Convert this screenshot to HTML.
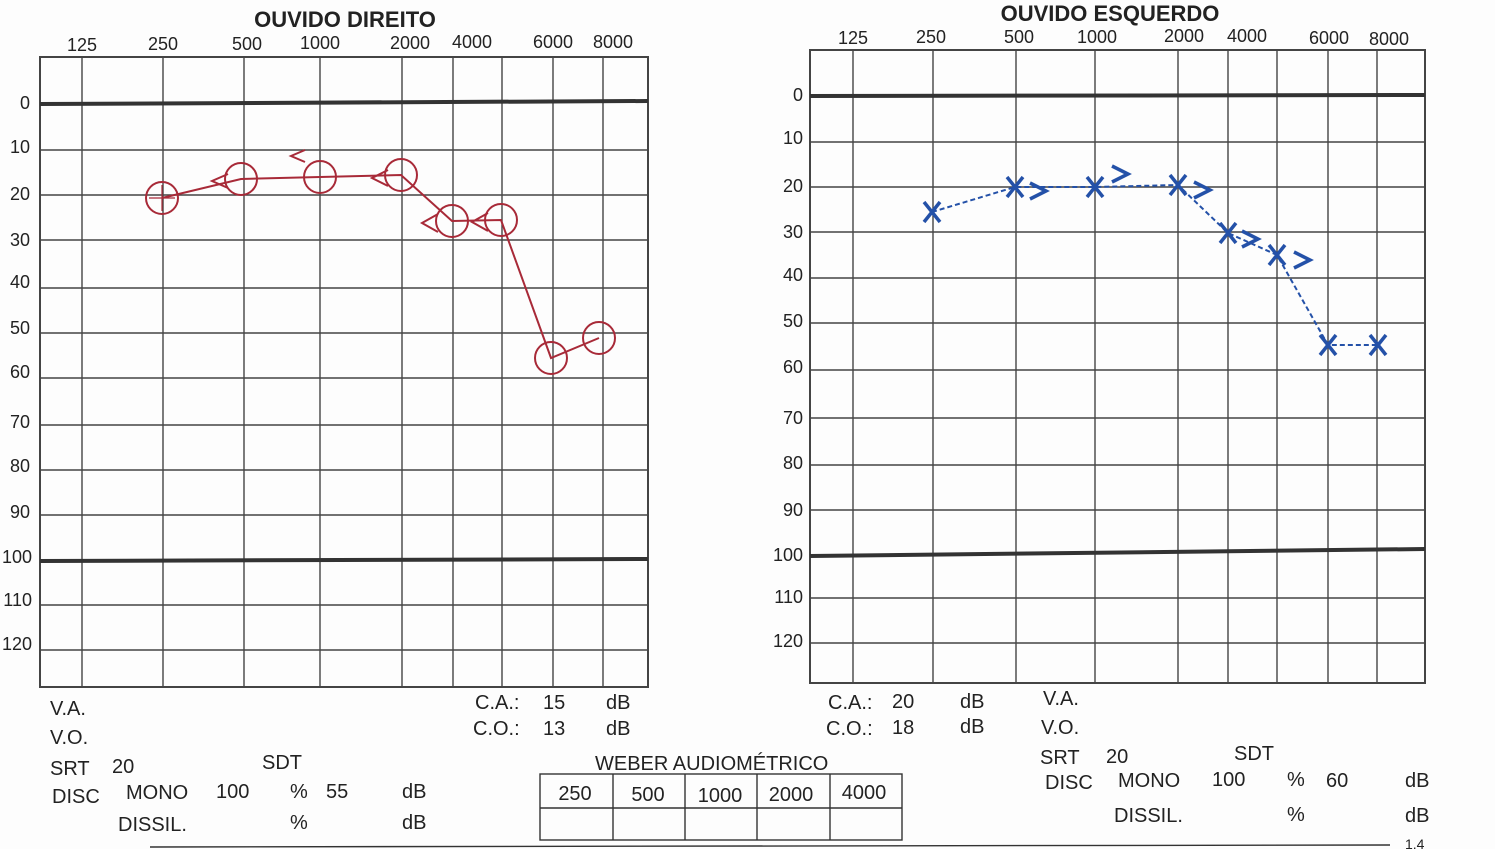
<!DOCTYPE html>
<html><head><meta charset="utf-8"><style>
html,body{margin:0;padding:0;background:#fff;}
svg{display:block;font-family:"Liberation Sans",sans-serif;}
</style></head><body>
<svg width="1495" height="849" viewBox="0 0 1495 849" xmlns="http://www.w3.org/2000/svg">
<rect width="1495" height="849" fill="#fdfdfd"/>
<!-- LEFT CHART -->
<g stroke="#444" stroke-width="1.4" fill="none">
<rect x="40" y="57" width="608" height="630" stroke-width="2"/>
<line x1="82" y1="57" x2="82" y2="687"/><line x1="163" y1="57" x2="163" y2="687"/>
<line x1="244" y1="57" x2="244" y2="687"/><line x1="320" y1="57" x2="320" y2="687"/>
<line x1="402" y1="57" x2="402" y2="687"/><line x1="453" y1="57" x2="453" y2="687"/>
<line x1="502" y1="57" x2="502" y2="687"/><line x1="553" y1="57" x2="553" y2="687"/>
<line x1="603" y1="57" x2="603" y2="687"/>
<line x1="40" y1="150" x2="648" y2="150"/><line x1="40" y1="195" x2="648" y2="195"/>
<line x1="40" y1="240" x2="648" y2="240"/><line x1="40" y1="288" x2="648" y2="288"/>
<line x1="40" y1="333" x2="648" y2="333"/><line x1="40" y1="378" x2="648" y2="378"/>
<line x1="40" y1="425" x2="648" y2="425"/><line x1="40" y1="470" x2="648" y2="470"/>
<line x1="40" y1="515" x2="648" y2="515"/><line x1="40" y1="605" x2="648" y2="605"/>
<line x1="40" y1="650" x2="648" y2="650"/>
</g>
<line x1="40" y1="104" x2="648" y2="101" stroke="#333" stroke-width="4"/>
<line x1="40" y1="561" x2="648" y2="559" stroke="#333" stroke-width="4"/>
<g font-size="18" fill="#222" text-anchor="middle">
<text x="345" y="27" font-weight="bold" font-size="22">OUVIDO DIREITO</text>
<text x="82" y="51">125</text><text x="163" y="50">250</text><text x="247" y="50">500</text>
<text x="320" y="49">1000</text><text x="410" y="49">2000</text><text x="472" y="48">4000</text>
<text x="553" y="48">6000</text><text x="613" y="48">8000</text>
</g>
<g font-size="18" fill="#222" text-anchor="end">
<text x="30" y="109">0</text><text x="30" y="153">10</text><text x="30" y="200">20</text>
<text x="30" y="246">30</text><text x="30" y="288">40</text><text x="30" y="334">50</text>
<text x="30" y="378">60</text><text x="30" y="428">70</text><text x="30" y="472">80</text>
<text x="30" y="518">90</text><text x="32" y="563">100</text><text x="32" y="606">110</text>
<text x="32" y="650">120</text>
</g>
<g stroke="#a82a38" stroke-width="2" fill="none">
<polyline points="162,198 241,179 320,177 401,175 452,221 501,220 551,358 599,338"/>
<circle cx="162" cy="198" r="16"/><circle cx="241" cy="179" r="16"/><circle cx="320" cy="177" r="16"/>
<circle cx="401" cy="175" r="16"/><circle cx="452" cy="221" r="16"/><circle cx="501" cy="220" r="16"/>
<circle cx="551" cy="358" r="16"/><circle cx="599" cy="338" r="16"/>
<path d="M162,185 V211 M149,198 H175" stroke-width="1.2"/>
<polyline points="228,174 212,181 228,188"/><polyline points="305,150 291,156 305,162"/>
<polyline points="388,170 372,178 388,186"/><polyline points="438,214 422,223 438,232"/>
<polyline points="488,213 472,222 488,231"/>
</g>
<!-- RIGHT CHART -->
<g stroke="#444" stroke-width="1.4" fill="none">
<rect x="810" y="50" width="615" height="633" stroke-width="2"/>
<line x1="853" y1="50" x2="853" y2="683"/><line x1="933" y1="50" x2="933" y2="683"/>
<line x1="1016" y1="50" x2="1016" y2="683"/><line x1="1095" y1="50" x2="1095" y2="683"/>
<line x1="1178" y1="50" x2="1178" y2="683"/><line x1="1228" y1="50" x2="1228" y2="683"/>
<line x1="1277" y1="50" x2="1277" y2="683"/><line x1="1328" y1="50" x2="1328" y2="683"/>
<line x1="1377" y1="50" x2="1377" y2="683"/>
<line x1="810" y1="142" x2="1425" y2="142"/><line x1="810" y1="187" x2="1425" y2="187"/>
<line x1="810" y1="232" x2="1425" y2="232"/><line x1="810" y1="278" x2="1425" y2="278"/>
<line x1="810" y1="323" x2="1425" y2="323"/><line x1="810" y1="370" x2="1425" y2="370"/>
<line x1="810" y1="418" x2="1425" y2="418"/><line x1="810" y1="465" x2="1425" y2="465"/>
<line x1="810" y1="510" x2="1425" y2="510"/><line x1="810" y1="598" x2="1425" y2="598"/>
<line x1="810" y1="643" x2="1425" y2="643"/>
</g>
<line x1="810" y1="96" x2="1425" y2="95" stroke="#333" stroke-width="4"/>
<line x1="810" y1="556" x2="1425" y2="549" stroke="#333" stroke-width="4"/>
<g font-size="18" fill="#222" text-anchor="middle">
<text x="1110" y="21" font-weight="bold" font-size="22">OUVIDO ESQUERDO</text>
<text x="853" y="44">125</text><text x="931" y="43">250</text><text x="1019" y="43">500</text>
<text x="1097" y="43">1000</text><text x="1184" y="42">2000</text><text x="1247" y="42">4000</text>
<text x="1329" y="44">6000</text><text x="1389" y="45">8000</text>
</g>
<g font-size="18" fill="#222" text-anchor="end">
<text x="803" y="101">0</text><text x="803" y="144">10</text><text x="803" y="192">20</text>
<text x="803" y="238">30</text><text x="803" y="281">40</text><text x="803" y="327">50</text>
<text x="803" y="373">60</text><text x="803" y="424">70</text><text x="803" y="469">80</text>
<text x="803" y="516">90</text><text x="803" y="561">100</text><text x="803" y="603">110</text>
<text x="803" y="647">120</text>
</g>
<g stroke="#2451a8" stroke-width="3" fill="none">
<polyline points="932,212 1015,187 1095,187 1178,185 1228,233 1277,255 1328,345 1378,345" stroke-dasharray="5,3" stroke-width="2"/>
<g stroke-width="3.5">
<path d="M924,202 L940,222 M940,202 L924,222"/><path d="M1007,177 L1023,197 M1023,177 L1007,197"/>
<path d="M1087,177 L1103,197 M1103,177 L1087,197"/><path d="M1170,175 L1186,195 M1186,175 L1170,195"/>
<path d="M1220,223 L1236,243 M1236,223 L1220,243"/><path d="M1269,245 L1285,265 M1285,245 L1269,265"/>
<path d="M1320,335 L1336,355 M1336,335 L1320,355"/><path d="M1370,335 L1386,355 M1386,335 L1370,355"/>
<polyline points="1030,183 1046,191 1030,199"/><polyline points="1112,166 1128,174 1112,182"/>
<polyline points="1194,182 1210,190 1194,198"/><polyline points="1242,231 1258,239 1242,247"/>
<polyline points="1294,252 1310,260 1294,268"/>
</g>
</g>
<!-- bottom text -->
<g font-size="20" fill="#222">
<text x="50" y="715">V.A.</text><text x="50" y="744">V.O.</text>
<text x="50" y="775">SRT</text><text x="112" y="773">20</text><text x="262" y="769">SDT</text>
<text x="52" y="803">DISC</text><text x="126" y="799">MONO</text><text x="216" y="798">100</text>
<text x="290" y="798">%</text><text x="326" y="798">55</text><text x="402" y="798">dB</text>
<text x="118" y="831">DISSIL.</text><text x="290" y="829">%</text><text x="402" y="829">dB</text>
<text x="475" y="709">C.A.:</text><text x="543" y="709">15</text><text x="606" y="709">dB</text>
<text x="473" y="735">C.O.:</text><text x="543" y="735">13</text><text x="606" y="735">dB</text>
<text x="595" y="770">WEBER AUDIOMÉTRICO</text>
<text x="828" y="709">C.A.:</text><text x="892" y="708">20</text><text x="960" y="708">dB</text>
<text x="826" y="735">C.O.:</text><text x="892" y="734">18</text><text x="960" y="733">dB</text>
<text x="1043" y="705">V.A.</text><text x="1041" y="734">V.O.</text>
<text x="1040" y="764">SRT</text><text x="1106" y="763">20</text><text x="1234" y="760">SDT</text>
<text x="1045" y="789">DISC</text><text x="1118" y="787">MONO</text><text x="1212" y="786">100</text>
<text x="1287" y="786">%</text><text x="1326" y="787">60</text><text x="1405" y="787">dB</text>
<text x="1114" y="822">DISSIL.</text><text x="1287" y="821">%</text><text x="1405" y="822">dB</text>
</g>
<g stroke="#333" stroke-width="1.4" fill="none">
<rect x="540" y="774" width="362" height="66"/>
<line x1="540" y1="808" x2="902" y2="808"/>
<line x1="613" y1="774" x2="613" y2="840"/><line x1="685" y1="774" x2="685" y2="840"/>
<line x1="757" y1="774" x2="757" y2="840"/><line x1="830" y1="774" x2="830" y2="840"/>
<line x1="150" y1="847" x2="1390" y2="845"/>
</g>
<g font-size="20" fill="#222" text-anchor="middle">
<text x="575" y="800">250</text><text x="648" y="801">500</text><text x="720" y="802">1000</text>
<text x="791" y="801">2000</text><text x="864" y="799">4000</text>
</g>
<text x="1405" y="849" font-size="14" fill="#222">1.4</text>
</svg>
</body></html>
